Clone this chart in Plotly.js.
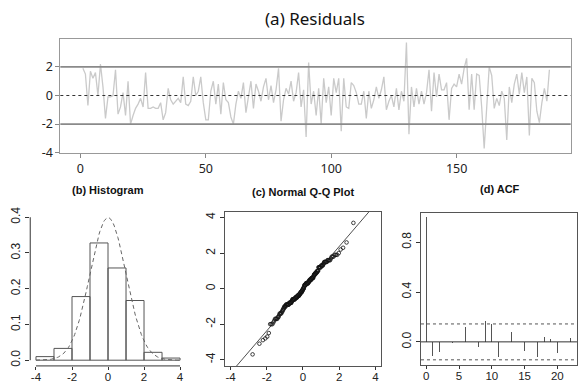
<!DOCTYPE html>
<html><head><meta charset="utf-8">
<script src="https://cdn.plot.ly/plotly-3.0.1.min.js"></script>
<style>html,body{margin:0;padding:0;background:#fff}#chart{width:579px;height:384px}</style>
</head><body><div id="chart"></div>
<script>
// ---- data ----
const residuals = [
 1.9, 1.5,-0.7, 1.7, 1.2, 1.6, 0.0, 2.2, 0.6,-1.6,
-0.1,-0.1, 0.0, 1.8,-1.3,-0.8, 0.2,-1.4, 1.0,-2.0,
-1.4,-0.9,-0.6,-0.2,-0.8, 1.6,-0.9,-0.9,-0.8,-0.9,
-0.9,-0.5,-1.7,-1.2, 0.5,-0.3,-0.6,-0.4,-0.2,-0.5,
 1.3,-0.6,-0.7,-0.4, 1.3, 0.0, 0.3, 1.3,-0.5,-1.7,
-1.7, 0.3, 1.0,-0.6, 0.8,-1.3, 0.9,-0.3,-0.5,-1.5,
-2.0,-0.6, 0.3,-0.2, 0.9,-1.2,-0.1, 1.0,-0.9, 0.8,
 0.3,-0.4, 0.6, 1.2,-0.3, 0.7,-0.5, 0.4, 1.9,-1.8,
-0.3, 0.5, 0.1, 1.0,-0.4, 0.2, 1.6,-0.8, 0.4,-2.9,
 2.3,-0.6, 0.3,-1.4, 0.5,-2.0, 1.2,-0.5, 0.6,-1.4,
 1.2, 0.2, 1.2,-2.5, 1.2,-0.8,-0.9, 0.9, 0.7, 0.2,
-0.6,-0.6, 0.3,-1.6, 0.3,-0.9,-0.3, 0.6,-0.2, 0.4,
 1.3,-1.0,-0.4, 0.0,-0.8, 0.5,-1.0, 0.3,-0.4, 3.7,
-2.7, 0.6,-0.8, 0.5,-0.6, 0.3,-0.6, 0.2, 1.8,-1.1,
 1.6,-0.1, 1.5, 0.4, 0.4, 0.9,-1.7, 0.5, 0.8, 0.6,
 1.5, 0.8, 1.9, 2.6,-1.0, 1.5,-1.0, 1.5, 1.4,-0.8,
-3.7,-0.4, 2.0, 1.4,-0.9,-0.2,-0.7, 0.3,-0.2,-3.1,
 0.6,-0.5, 0.8, 1.5, 0.1, 1.6, 0.2, 1.3,-2.8, 1.2,
 0.9,-1.1,-1.9,-0.5, 0.5,-0.4, 1.8
];
const histBinMids = [-3.5,-2.5,-1.5,-0.5,0.5,1.5,2.5,3.5];
const histDensity = [0.010,0.033,0.178,0.328,0.258,0.167,0.022,0.006];
const acfLags   = [0,1,2,3,4,5,6,7,8,9,10,11,12,13,14,15,16,17,18,19,20,21,22];
const acfValues = [1.0,-0.11,-0.08,0.12,-0.01,0.07,0.12,-0.15,-0.04,0.17,0.14,-0.12,0.04,0.08,0.02,-0.07,-0.03,-0.12,0.04,0.02,-0.09,0.05,0.03];
const acfBound = 0.144;
const refLevels = [2,-2];
const titles = ["(a) Residuals","(b) Histogram","(c) Normal Q-Q Plot","(d) ACF"];

// ---- derived ----
const idx = residuals.map((_,i)=>i+1);
const curveX=[],curveY=[];
for(let v=-4; v<=4.0001; v+=0.05){curveX.push(v);curveY.push(Math.exp(-v*v/2)/Math.sqrt(2*Math.PI));}
function qnorm(p){
  const a=[-3.969683028665376e+01,2.209460984245205e+02,-2.759285104469687e+02,1.383577518672690e+02,-3.066479806614716e+01,2.506628277459239e+00];
  const b=[-5.447609879822406e+01,1.615858368580409e+02,-1.556989798598866e+02,6.680131188771972e+01,-1.328068155288572e+01];
  const c=[-7.784894002430293e-03,-3.223964580411365e-01,-2.400758277161838e+00,-2.549671324348378e+00,4.374664141464968e+00,2.938163982698783e+00];
  const d=[7.784695709041462e-03,3.224671290700398e-01,2.445134137142996e+00,3.754408661907416e+00];
  const pl=0.02425; let q,r;
  if(p<pl){q=Math.sqrt(-2*Math.log(p));return (((((c[0]*q+c[1])*q+c[2])*q+c[3])*q+c[4])*q+c[5])/((((d[0]*q+d[1])*q+d[2])*q+d[3])*q+1);}
  if(p>1-pl){q=Math.sqrt(-2*Math.log(1-p));return -(((((c[0]*q+c[1])*q+c[2])*q+c[3])*q+c[4])*q+c[5])/((((d[0]*q+d[1])*q+d[2])*q+d[3])*q+1);}
  q=p-0.5;r=q*q;return (((((a[0]*r+a[1])*r+a[2])*r+a[3])*r+a[4])*r+a[5])*q/(((((b[0]*r+b[1])*r+b[2])*r+b[3])*r+b[4])*r+1);
}
const n=residuals.length;
const sorted=[...residuals].sort((a,b)=>a-b);
const theo=sorted.map((_,i)=>qnorm((i+0.5)/n));
function quant(arr,p){const h=(arr.length-1)*p;const lo=Math.floor(h);return arr[lo]+(h-lo)*(arr[Math.min(lo+1,arr.length-1)]-arr[lo]);}
const q1=quant(sorted,0.25),q3=quant(sorted,0.75),z1=qnorm(0.25),z3=qnorm(0.75);
const slope=(q3-q1)/(z3-z1), icpt=q1-slope*z1;

const topFont={family:'"Noto Sans", "Open Sans", sans-serif',size:12.5,color:'#222'};
const botFont={family:'"Liberation Sans", Arial, sans-serif',size:12,color:'#222'};
const botXFont={family:'"Liberation Sans", Arial, sans-serif',size:11.5,color:'#222'};
const titleFont={family:'"Liberation Sans", Arial, sans-serif',size:11,color:'#111'};
const boxCol='#555';

const traces=[
 {x:idx,y:residuals,type:'scatter',mode:'lines',line:{color:'#cacaca',width:1.3},xaxis:'x',yaxis:'y',hoverinfo:'skip'},
 {x:histBinMids,y:histDensity,type:'bar',width:1,marker:{color:'rgba(255,255,255,0)',line:{color:'#555',width:1}},xaxis:'x2',yaxis:'y2'},
 {x:curveX,y:curveY,type:'scatter',mode:'lines',line:{color:'#666',width:1,dash:'4px,3px'},xaxis:'x2',yaxis:'y2'},
 {x:theo,y:sorted,type:'scatter',mode:'markers',marker:{symbol:'circle-open',size:3.6,color:'#111',line:{width:0.8}},xaxis:'x3',yaxis:'y3'},
 {x:[-4.33,4.33],y:[icpt-slope*4.33,icpt+slope*4.33],type:'scatter',mode:'lines',line:{color:'#222',width:0.8},xaxis:'x3',yaxis:'y3'},
 {x:acfLags,y:acfValues,type:'bar',width:0.09,marker:{color:'#555',line:{width:0}},xaxis:'x4',yaxis:'y4'}
];

const shapes=[];
refLevels.forEach(v=>shapes.push({type:'line',xref:'x domain',yref:'y',x0:0,x1:1,y0:v,y1:v,line:{color:'#8a8a8a',width:1.6}}));
shapes.push({type:'line',xref:'x domain',yref:'y',x0:0,x1:1,y0:0,y1:0,line:{color:'#333',width:1,dash:'3px,3px'}});
shapes.push({type:'line',xref:'x2',yref:'y2 domain',x0:-4,x1:4,y0:0,y1:0,line:{color:'#333',width:1}});
shapes.push({type:'line',xref:'x2 domain',yref:'y2',x0:0,x1:0,y0:0,y1:0.4,line:{color:'#333',width:1}});
shapes.push({type:'line',xref:'x4 domain',yref:'y4',x0:0,x1:1,y0:0,y1:0,line:{color:'#333',width:1}});
[acfBound,-acfBound].forEach(v=>shapes.push({type:'line',xref:'x4 domain',yref:'y4',x0:0,x1:1,y0:v,y1:v,line:{color:'#555',width:1,dash:'3px,3px'}}));

const boxAxis={showline:true,mirror:true,linecolor:boxCol,linewidth:1,ticks:'outside',ticklen:4,tickcolor:'#333',showgrid:false,zeroline:false,tickfont:botFont};
const xBot={ticklen:3,ticklabelstandoff:-3,tickfont:botXFont};
const up=0.008;
const layout={
 width:579,height:384,margin:{l:0,r:0,t:0,b:0},paper_bgcolor:'#fff',plot_bgcolor:'#fff',showlegend:false,bargap:0,
 xaxis:{domain:[0.1042,0.9857],anchor:'y',range:[-8,195.5],tickvals:[0,50,100,150],ticks:'outside',ticklen:4,tickcolor:'#888',showline:true,mirror:true,linecolor:'#999',linewidth:1,showgrid:false,zeroline:false,tickfont:topFont},
 yaxis:{domain:[0.6023,0.8984],anchor:'x',range:[-4,3.95],tickvals:[-4,-2,0,2],ticktext:['-4','-2','0','2'],ticks:'outside',ticklen:4,tickcolor:'#888',showline:true,mirror:true,linecolor:'#999',linewidth:1,showgrid:false,zeroline:false,tickfont:topFont},
 xaxis2:Object.assign({domain:[0.0522,0.3209],anchor:'y2',range:[-4.32,4.32],tickvals:[-4,-2,0,2,4],ticktext:['-4','-2','0','2','4'],ticks:'outside',tickcolor:'#333',showline:false,showgrid:false,zeroline:false},xBot),
 yaxis2:{domain:[0.0391+up,0.4492],anchor:'x2',range:[-0.016,0.416],tickvals:[0,0.1,0.2,0.3,0.4],ticktext:['0.0','0.1','0.2','0.3','0.4'],tickangle:-90,ticks:'outside',ticklen:4,tickcolor:'#333',showline:false,showgrid:false,zeroline:false,tickfont:botFont},
 xaxis3:Object.assign({},boxAxis,{domain:[0.3886,0.6580],anchor:'y3',range:[-4.31,4.31],tickvals:[-4,-2,0,2,4],ticktext:['-4','-2','0','2','4']},xBot),
 yaxis3:Object.assign({},boxAxis,{domain:[0.0391+up,0.4487],anchor:'x3',range:[-4.35,4.33],tickvals:[-4,-2,0,2,4],ticktext:['-4','-2','0','2','4'],tickangle:-90}),
 xaxis4:Object.assign({},boxAxis,{domain:[0.7271,0.9965],anchor:'y4',range:[-0.8,23],tickvals:[0,5,10,15,20]},xBot),
 yaxis4:Object.assign({},boxAxis,{domain:[0.0417+up,0.4453],anchor:'x4',range:[-0.185,1.035],tickvals:[0,0.4,0.8],ticktext:['0.0','0.4','0.8'],tickangle:-90}),
 shapes:shapes,
 annotations:[
  {text:titles[0],xref:'paper',yref:'paper',x:315/579,y:1-18/384,xanchor:'center',yanchor:'middle',showarrow:false,font:{family:'"Noto Sans", "Open Sans", sans-serif',size:17,color:'#111'}},
  {text:'<b>'+titles[1]+'</b>',xref:'paper',yref:'paper',x:108/579,y:1-190/384,xanchor:'center',yanchor:'middle',showarrow:false,font:titleFont},
  {text:'<b>'+titles[2]+'</b>',xref:'paper',yref:'paper',x:303/579,y:1-192/384,xanchor:'center',yanchor:'middle',showarrow:false,font:titleFont},
  {text:'<b>'+titles[3]+'</b>',xref:'paper',yref:'paper',x:500/579,y:1-189/384,xanchor:'center',yanchor:'middle',showarrow:false,font:titleFont}
 ]
};
Plotly.newPlot('chart',traces,layout,{staticPlot:true,displayModeBar:false});
</script></body></html>
